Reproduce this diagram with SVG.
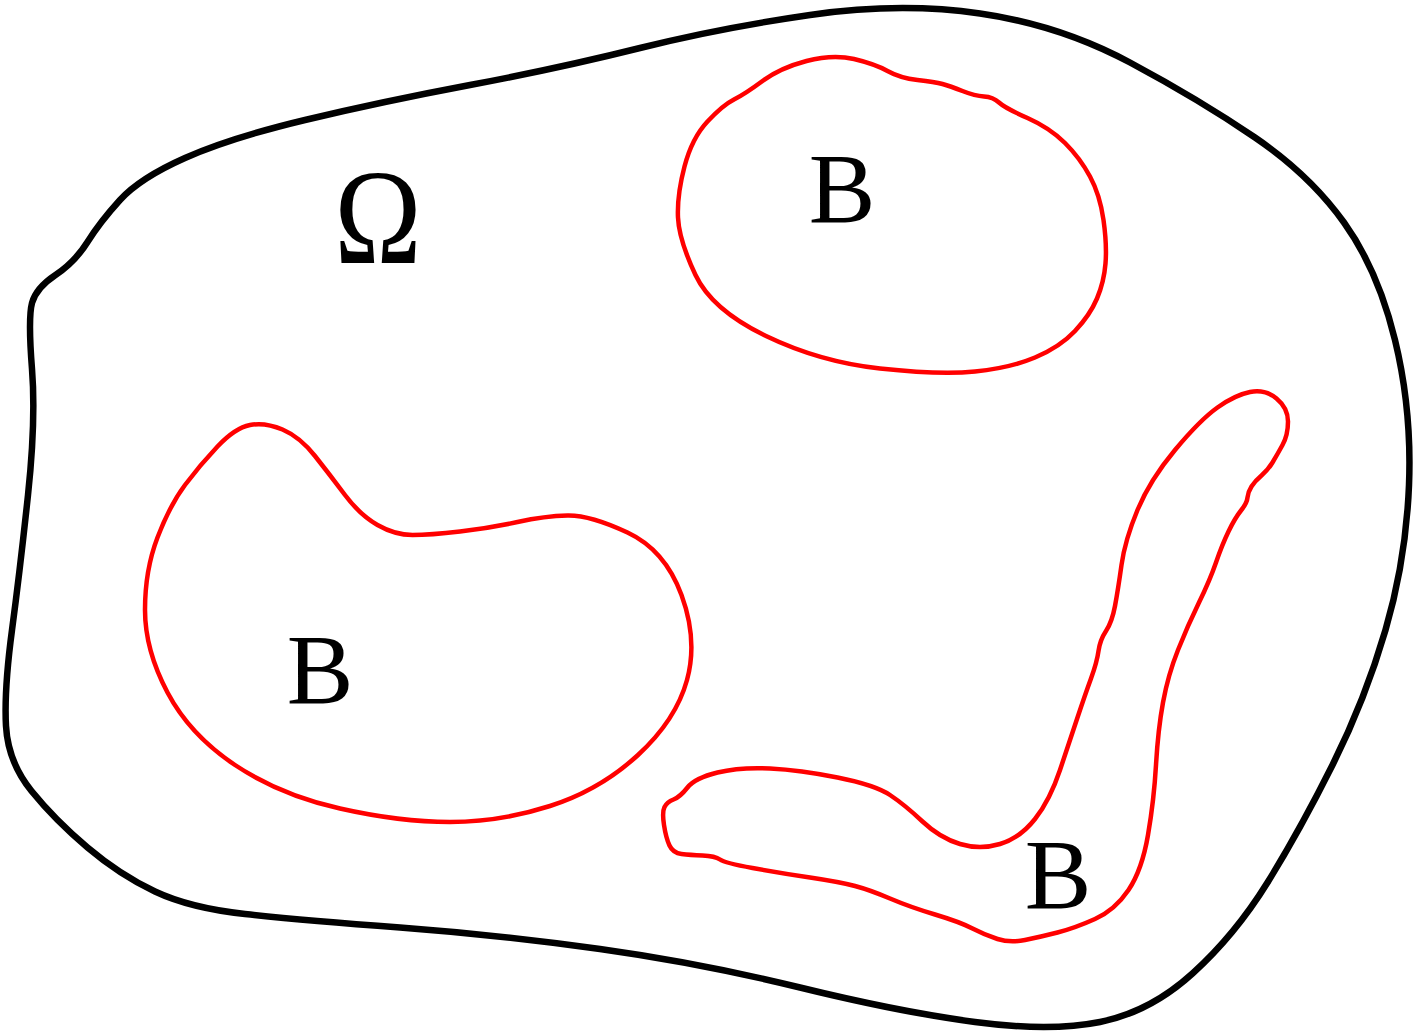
<svg xmlns="http://www.w3.org/2000/svg" width="1417" height="1035" viewBox="0 0 1417 1035">
<style>
.outer{fill:none;stroke:#000;stroke-width:6.5;stroke-linejoin:round}
.red{fill:none;stroke:#f00;stroke-width:4.5;stroke-linejoin:round}
.lbl{font-family:"Liberation Serif","DejaVu Serif",serif;fill:#000;text-anchor:middle}
</style>
<rect width="1417" height="1035" fill="#fff"/>
<g id="omega">
<path class="outer" d="M55.5,275 Q75,262 87.5,242 Q100,222 120,200 Q140,178 185,158 Q230,138 305,120 Q380,102 470,85 Q560,68 640,48 Q720,28 810,15 Q900,2 980,13.5 Q1060,25 1130,62.5 Q1200,100 1255,137.5 Q1310,175 1344,222.5 Q1378,270 1395,340 Q1412,410 1409,485 Q1406,560 1385.5,630 Q1365,700 1332.5,765 Q1300,830 1267.5,882.5 Q1235,935 1192.5,973.5 Q1150,1012 1100,1022 Q1050,1032 975,1022 Q900,1012 800,987.5 Q700,963 600,949 Q500,935 400,927.5 Q300,920 245,914 Q190,908 155,891.5 Q120,875 87.5,847.5 Q55,820 31.5,791 Q8,762 6,726 Q4,690 12,630 Q20,570 28,495 Q36,420 32,369 Q28,318 32,303 Q36,288 55.5,275 Z"/>
<text class="lbl" font-size="120" transform="translate(378,263) scale(0.98,1.13)">Ω</text>
</g>
<g id="b1">
<path class="red" d="M707.5,121.5 Q723,105 734,99.5 Q745,94 762.5,81 Q780,68 806.5,61 Q833,54 854,59 Q875,64 887.5,71 Q900,78 917.5,80 Q935,82 942.5,84 Q950,86 962.5,91 Q975,96 984,96.5 Q993,97 999,102.5 Q1005,108 1027.5,118 Q1050,128 1065,143 Q1080,158 1090,176.5 Q1100,195 1103.5,220 Q1107,245 1105.5,263.5 Q1104,282 1097,298.5 Q1090,315 1075,331 Q1060,347 1035,357.5 Q1010,368 975,371.5 Q940,375 880,368.5 Q820,362 766,336 Q712,310 695.5,275 Q679,240 678,217.5 Q677,195 684.5,166.5 Q692,138 707.5,121.5 Z"/>
<text class="lbl" x="842" y="222" font-size="100">B</text>
</g>
<g id="b2">
<path class="red" d="M250,425 Q265,422 282.5,429.5 Q300,437 315,456 Q330,475 345,495 Q360,515 377.5,525 Q395,535 412.5,535 Q430,535 460,531.5 Q490,528 517.5,522 Q545,516 567.5,515.5 Q590,515 627.5,532.5 Q665,550 681.5,595 Q698,640 687,680 Q676,720 638,755 Q600,790 550,806 Q500,822 450,822 Q400,822 340,808.5 Q280,795 235,765 Q190,735 167.5,692.5 Q145,650 145,610 Q145,570 157.5,537.5 Q170,505 185,485 Q200,465 217.5,446.5 Q235,428 250,425 Z"/>
<text class="lbl" x="320" y="703" font-size="100">B</text>
</g>
<g id="b3">
<path class="red" d="M664.5,807 Q667,802 673.5,799.5 Q680,797 687.5,787.5 Q695,778 717.5,772.5 Q740,767 770,768.5 Q800,770 837.5,777.5 Q875,785 890,795 Q905,805 922.5,821.5 Q940,838 960,844 Q980,850 1000,844 Q1020,838 1035,819 Q1050,800 1060,770 Q1070,740 1077.5,717.5 Q1085,695 1091,678.5 Q1097,662 1098.5,651 Q1100,640 1106,631 Q1112,622 1115,606 Q1118,590 1121.5,565 Q1125,540 1137.5,510 Q1150,480 1175,450 Q1200,420 1217.5,407.5 Q1235,395 1250,392 Q1265,389 1276.5,398.5 Q1288,408 1288,421.5 Q1288,435 1282.5,445 Q1277,455 1272.5,462.5 Q1268,470 1261.5,475.5 Q1255,481 1251.5,486.5 Q1248,492 1247.5,497.5 Q1247,503 1241,510.5 Q1235,518 1228.5,531.5 Q1222,545 1216,562.5 Q1210,580 1199,602.5 Q1188,625 1178,650 Q1168,675 1163,702.5 Q1158,730 1156,765 Q1154,800 1148,835 Q1142,870 1128.5,890 Q1115,910 1095,919 Q1075,928 1057.5,932.5 Q1040,937 1025,940 Q1010,943 997.5,939 Q985,935 972.5,928.5 Q960,922 935,914.5 Q910,907 890,898.5 Q870,890 855,886 Q840,882 810,877.5 Q780,873 752.5,868 Q725,863 720,859.5 Q715,856 702.5,855.5 Q690,855 681.5,854 Q673,853 669.5,845.5 Q666,838 664,825 Q662,812 664.5,807 Z"/>
<text class="lbl" x="1058" y="908" font-size="100">B</text>
</g>
</svg>
